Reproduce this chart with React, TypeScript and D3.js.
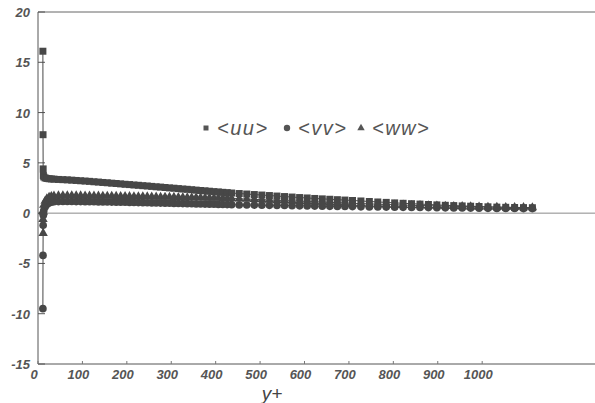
import React from 'react';
import * as d3 from 'd3';

// wall distance y+ for every sample
const yPlus = [
  11, 11.3, 11.6, 12, 13, 16, 20, 25, 30, 36,
  46, 56, 66, 76, 86, 96, 106, 116, 126, 136, 146, 156, 166, 176, 186, 196, 206, 216, 226, 236,
  246, 256, 266, 276, 286, 296, 306, 316, 326, 336, 346, 356, 366, 376, 386, 396, 406, 416, 426, 436,
  453, 470, 487, 504, 521, 538, 555, 572, 589, 606, 623, 640, 657, 674, 691, 708,
  727, 746, 765, 784, 803, 822, 841, 860, 879, 898, 917, 936, 955, 974, 993,
  1013, 1033, 1053, 1073, 1093, 1113,
];

const uu = [
  16.1, 7.8, 4.4, 3.75, 3.6, 3.5, 3.45, 3.42, 3.4, 3.38,
  3.35, 3.33, 3.31, 3.28, 3.25, 3.22, 3.19, 3.16, 3.12, 3.09, 3.05, 3.02, 2.98, 2.95, 2.91, 2.87, 2.84, 2.8, 2.77, 2.73,
  2.7, 2.66, 2.62, 2.59, 2.55, 2.51, 2.48, 2.44, 2.4, 2.37, 2.33, 2.29, 2.25, 2.22, 2.18, 2.14, 2.11, 2.07, 2.04, 2.0,
  1.95, 1.9, 1.85, 1.8, 1.75, 1.7, 1.65, 1.6, 1.55, 1.51, 1.46, 1.42, 1.38, 1.34, 1.3, 1.26,
  1.21, 1.16, 1.11, 1.07, 1.02, 0.98, 0.94, 0.9, 0.86, 0.82, 0.78, 0.75, 0.72, 0.69, 0.66,
  0.63, 0.6, 0.58, 0.56, 0.55, 0.54,
];

const vv = [
  -9.5, -4.2, -1.2, -0.2, 0.25, 0.6, 0.85, 1.0, 1.08, 1.13,
  1.15, 1.16, 1.16, 1.16, 1.15, 1.15, 1.14, 1.14, 1.13, 1.12, 1.12, 1.11, 1.1, 1.09, 1.09, 1.08, 1.07, 1.06, 1.05, 1.04,
  1.03, 1.02, 1.01, 1.0, 0.99, 0.98, 0.97, 0.96, 0.95, 0.94, 0.93, 0.92, 0.91, 0.9, 0.89, 0.88, 0.87, 0.86, 0.85, 0.84,
  0.82, 0.81, 0.8, 0.79, 0.78, 0.77, 0.76, 0.74, 0.73, 0.72, 0.7, 0.69, 0.68, 0.67, 0.66, 0.65,
  0.63, 0.62, 0.61, 0.6, 0.59, 0.58, 0.57, 0.56, 0.55, 0.54, 0.53, 0.52, 0.51, 0.5, 0.49,
  0.48, 0.47, 0.46, 0.46, 0.45, 0.45,
];

const ww = [
  0.2, -0.6, -2.0, 0.1, 0.8, 1.2, 1.45, 1.6, 1.67, 1.71,
  1.73, 1.74, 1.74, 1.74, 1.73, 1.73, 1.72, 1.72, 1.71, 1.71, 1.7, 1.69, 1.69, 1.68, 1.67, 1.67, 1.66, 1.65, 1.64, 1.64,
  1.63, 1.62, 1.61, 1.6, 1.6, 1.59, 1.58, 1.57, 1.56, 1.55, 1.55, 1.54, 1.53, 1.52, 1.51, 1.5, 1.49, 1.48, 1.47, 1.46,
  1.43, 1.4, 1.37, 1.34, 1.31, 1.28, 1.25, 1.22, 1.19, 1.16, 1.13, 1.1, 1.07, 1.04, 1.01, 0.98,
  0.95, 0.92, 0.89, 0.86, 0.83, 0.81, 0.78, 0.76, 0.74, 0.72, 0.7, 0.68, 0.66, 0.64, 0.62,
  0.6, 0.59, 0.58, 0.57, 0.56, 0.55,
];

const xTicks = [0, 100, 200, 300, 400, 500, 600, 700, 800, 900, 1000];
const yTicks = [-15, -10, -5, 0, 5, 10, 15, 20];

const seriesNames = ['<uu>', '<vv>', '<ww>'];

const W = 595;
const H = 403;
const left = 38;
const top = 12;
const bottom = 364;
const ink = '#474747';
const font = '"Liberation Sans", Arial, sans-serif';

export default function App() {
  const x = d3.scaleLinear().domain([0, 1254]).range([left, W]);
  const y = d3.scaleLinear().domain([-15, 20]).range([bottom, top]);

  const series = [
    { name: seriesNames[0], values: uu, shape: d3.symbolSquare, size: 49, legendSize: 25 },
    { name: seriesNames[1], values: vv, shape: d3.symbolCircle, size: 46, legendSize: 32 },
    { name: seriesNames[2], values: ww, shape: d3.symbolTriangle, size: 38, legendSize: 24 },
  ];

  const line = d3.line<number>()
    .x((_, i) => x(yPlus[i]))
    .y(d => y(d));

  const legendX = [206, 287, 361];

  return (
    <svg width={W} height={H} style={{ position: 'absolute', left: 0, top: 0, background: '#fff' }}>
      {/* frame */}
      <line x1={left} x2={W} y1={top} y2={top} stroke="#666" strokeWidth={1} />
      <line x1={left} x2={left} y1={top} y2={bottom} stroke="#555" strokeWidth={1} />
      <line x1={left} x2={W} y1={bottom} y2={bottom} stroke="#555" strokeWidth={1} />
      <line x1={left} x2={W} y1={y(0)} y2={y(0)} stroke="#8a8a8a" strokeWidth={1} />

      {/* y axis */}
      {yTicks.map(t => (
        <g key={'y' + t}>
          <line x1={left} x2={left + 7} y1={y(t)} y2={y(t)} stroke="#555" />
          <text x={30} y={y(t) + 5} textAnchor="end" fontFamily={font} fontStyle="italic"
            fontWeight="bold" fontSize={13} fill="#555">{t}</text>
        </g>
      ))}

      {/* x axis */}
      {xTicks.map(t => (
        <g key={'x' + t}>
          <line x1={x(t)} x2={x(t)} y1={bottom} y2={bottom - 3} stroke="#777" />
          <text x={x(t) - 4} y={379} textAnchor="middle" fontFamily={font} fontStyle="italic"
            fontWeight="bold" fontSize={13} fill="#555">{t}</text>
        </g>
      ))}
      <text x={272} y={400} textAnchor="middle" fontFamily={font} fontStyle="italic"
        fontSize={19} fill="#444">y+</text>

      {/* series lines */}
      {series.map(s => (
        <path key={'l' + s.name} d={line(s.values) || ''} fill="none" stroke={ink} strokeWidth={1} />
      ))}

      {/* markers */}
      {series.map(s => (
        <g key={'m' + s.name} fill={ink}>
          {s.values.map((v, i) => (
            <path key={i} transform={`translate(${x(yPlus[i])},${y(v)})`}
              d={d3.symbol().type(s.shape).size(s.size)() || ''} />
          ))}
        </g>
      ))}

      {/* legend */}
      {series.map((s, i) => (
        <g key={'lg' + s.name}>
          <path transform={`translate(${legendX[i]},${128})`} fill="#555"
            d={d3.symbol().type(s.shape).size(s.legendSize)() || ''} />
          <text x={legendX[i] + 11} y={135} fontFamily={font} fontStyle="italic" fontSize={20}
            letterSpacing={1.5} fill="#555">{s.name}</text>
        </g>
      ))}
    </svg>
  );
}
